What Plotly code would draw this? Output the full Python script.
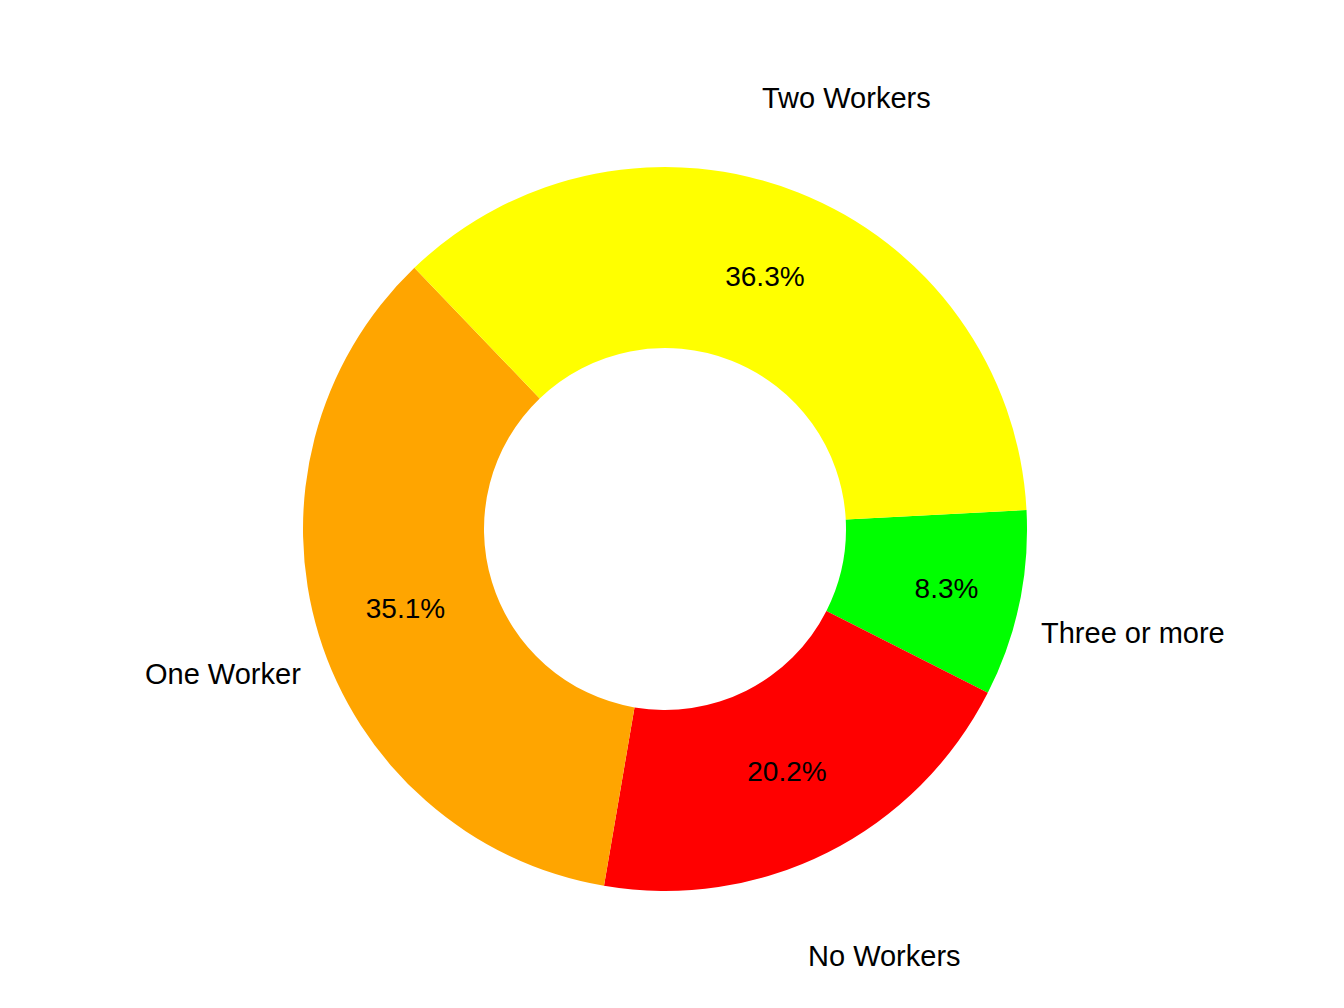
import math
import plotly.graph_objects as go

labels = ["Three or more", "No Workers", "One Worker", "Two Workers"]
shares = [8.3, 20.2, 35.1, 36.3]
colors = ["#00FF00", "#FF0000", "#FFA500", "#FFFF00"]

W, H = 1344, 1008
cx, cy, r = 665, 528, 362
start = 87  # degrees clockwise from 12 o'clock
shift_x, shift_y = -8, -7  # plotly renders the pie a little off the domain centre

fig = go.Figure(go.Pie(
    labels=labels, values=shares, sort=False, direction="clockwise",
    rotation=start, hole=0.5, marker=dict(colors=colors),
    textinfo="percent", texttemplate="%{percent:.1%}", textposition="inside",
    insidetextorientation="horizontal",
    textfont=dict(family="Liberation Sans, Arial", size=28, color="black"),
    showlegend=False, hoverinfo="label+percent",
    domain=dict(x=[(cx + shift_x - r) / W, (cx + shift_x + r) / W],
                y=[1 - (cy + shift_y + r) / H, 1 - (cy + shift_y - r) / H]),
))

# outside category labels at 1.3 x radius
total = sum(shares)
acc = 0
for lab, v in zip(labels, shares):
    mid = math.radians(start + (acc + v / 2) / total * 360)
    acc += v
    px = cx + 1.3 * r * math.sin(mid)
    py = cy - 1.3 * r * math.cos(mid)
    fig.add_annotation(x=px / W, y=1 - py / H, xref="paper", yref="paper",
                       xanchor="center", yanchor="middle",
                       text=lab, showarrow=False,
                       font=dict(family="Liberation Sans, Arial", size=29, color="black"))

fig.update_layout(width=W, height=H, margin=dict(l=0, r=0, t=0, b=0),
                  paper_bgcolor="white", plot_bgcolor="white")
fig.write_html("out.html")
